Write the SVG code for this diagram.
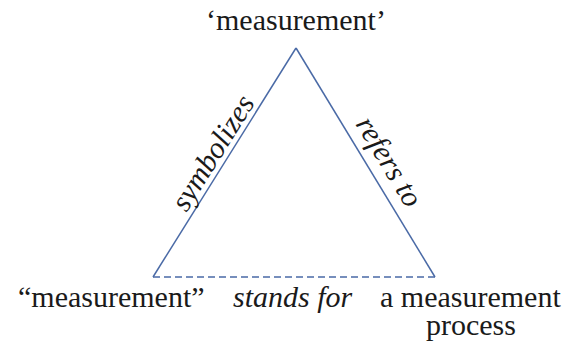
<svg xmlns="http://www.w3.org/2000/svg" width="578" height="350" viewBox="0 0 578 350">
<style>
.e{stroke:#4a6aa6;stroke-width:1.5;fill:none}
</style>
<rect width="578" height="350" fill="#ffffff"/>
<g id="connectors">
<line class="e" x1="153" y1="277" x2="296" y2="48"/>
<line class="e" x1="296" y1="48" x2="435" y2="277"/>
<line class="e" x1="153" y1="277" x2="435" y2="277" stroke-dasharray="7 4"/>
<text style="font-family:'Liberation Serif';font-size:30px;font-style:italic;fill:#1a1a1a" transform="translate(186.5,213) rotate(-58)">symbolizes</text>
<text style="font-family:'Liberation Serif';font-size:30px;font-style:italic;fill:#1a1a1a" transform="translate(355,124) rotate(58.7)">refers to</text>
<text style="font-family:'Liberation Serif';font-size:30px;font-style:italic;fill:#1a1a1a" x="233" y="307">stands for</text>
</g>
<g id="top"><text style="font-family:'Liberation Serif';font-size:30px;fill:#1a1a1a" x="206" y="30">‘measurement’</text></g>
<g id="left"><text style="font-family:'Liberation Serif';font-size:30px;fill:#1a1a1a" x="18" y="307">“measurement”</text></g>
<g id="right"><text style="font-family:'Liberation Serif';font-size:30px;fill:#1a1a1a" x="380" y="307">a measurement</text><text style="font-family:'Liberation Serif';font-size:30px;fill:#1a1a1a" x="426" y="335">process</text></g>
</svg>
